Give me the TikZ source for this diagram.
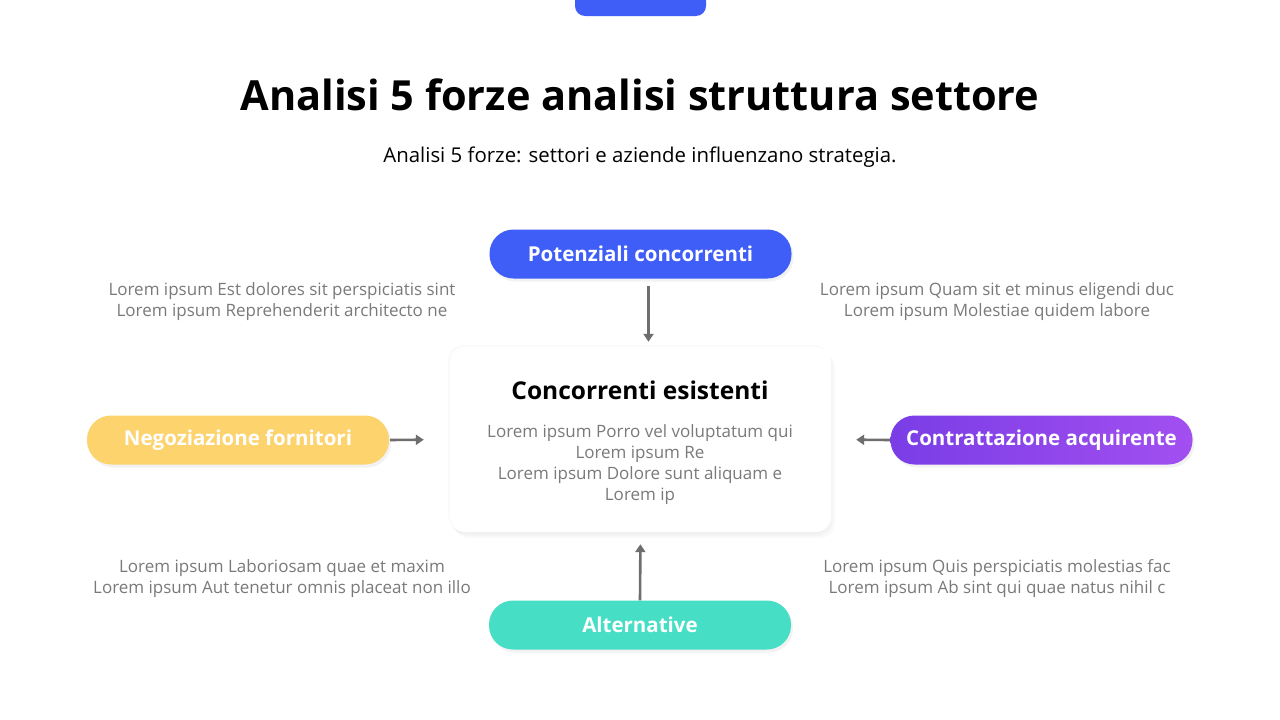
\documentclass[tikz,border=0pt]{standalone}
\usepackage{fontspec}
\setmainfont{Open Sans}
\usetikzlibrary{arrows.meta,shadows}
\definecolor{forceblue}{HTML}{3F5EF8}
\definecolor{forceyellow}{HTML}{FDD36E}
\definecolor{forcepurpleA}{HTML}{7A3DE6}
\definecolor{forcepurpleB}{HTML}{A24FF0}
\definecolor{forcegreen}{HTML}{47DEC6}
\definecolor{loremgray}{HTML}{7A7A7A}
\definecolor{arrowgray}{HTML}{6E6E6E}
\begin{document}
\begin{tikzpicture}
[
    x=1pt, y=-1pt,
    force/.style={rounded corners=24pt, minimum width=302pt, minimum height=49pt,
        text=white, font=\fontsize{20.5}{24}\selectfont\bfseries,
        drop shadow={opacity=0.10, shadow xshift=2pt, shadow yshift=-3pt}},
    lorem/.style={align=center, text=loremgray, font=\fontsize{17}{21}\selectfont},
    push/.style={draw=arrowgray, line width=2.6pt, -{Triangle[length=8pt,width=10pt]}},
]
\useasboundingbox (0,0) rectangle (1280,720);
\fill[white] (0,0) rectangle (1280,720);
% top tab
\fill[forceblue, rounded corners=10pt] (575,-20) rectangle (706,16);
% heading
\node (title) at (640,95) {\fontsize{41.5}{50}\selectfont\bfseries Analisi 5 forze analisi struttura settore};
\node (subtitle) at (640,157) {\fontsize{20.4}{24}\selectfont Analisi 5 forze: settori e aziende influenzano strategia.};
% centre box
\node[fill=white, rounded corners=15pt, minimum width=381pt, minimum height=185pt,
    drop shadow={opacity=0.04, shadow xshift=0pt, shadow yshift=-2pt},
    drop shadow={opacity=0.04, shadow xshift=2pt, shadow yshift=-4pt},
    drop shadow={opacity=0.04, shadow xshift=4pt, shadow yshift=-6pt},
    drop shadow={opacity=0.04, shadow xshift=-2pt, shadow yshift=2pt}] (conc) at (640.5,439.5) {};
\node[font=\fontsize{24.5}{28}\selectfont\bfseries] (conctitle) at (640,390) {Concorrenti esistenti};
\node[lorem, anchor=north] (conctext) at (640,421) {Lorem ipsum Porro vel voluptatum qui\\Lorem ipsum Re\\Lorem ipsum Dolore sunt aliquam e\\Lorem ip};
% forces
\node[force, fill=forceblue] (pot) at (640.5,254) {Potenziali concorrenti};
\node[force, fill=forceyellow] (forn) at (238,440) {Negoziazione fornitori};
\node[force, left color=forcepurpleA, right color=forcepurpleB] (acq) at (1041.5,440) {Contrattazione acquirente};
\node[force, fill=forcegreen] (alt) at (640,625) {Alternative};
% arrows
\draw[push, shorten <=7pt, shorten >=5pt] ([xshift=8pt]pot.south) -- ([xshift=8pt]conc.north);
\draw[push, shorten <=1pt, shorten >=26pt] (forn.east) -- (conc.west);
\draw[push, shorten <=0pt, shorten >=25pt] (acq.west) -- (conc.east);
\draw[push, shorten <=0pt, shorten >=12pt] (alt.north) -- (conc.south);
% side notes
\node[lorem] (notetl) at (282,301.5) {Lorem ipsum Est dolores sit perspiciatis sint\\Lorem ipsum Reprehenderit architecto ne};
\node[lorem] (notetr) at (997,301.5) {Lorem ipsum Quam sit et minus eligendi duc\\Lorem ipsum Molestiae quidem labore};
\node[lorem] (notebl) at (282,578.5) {Lorem ipsum Laboriosam quae et maxim\\Lorem ipsum Aut tenetur omnis placeat non illo};
\node[lorem] (notebr) at (997,578.5) {Lorem ipsum Quis perspiciatis molestias fac\\Lorem ipsum Ab sint qui quae natus nihil c};
\end{tikzpicture}
\end{document}
